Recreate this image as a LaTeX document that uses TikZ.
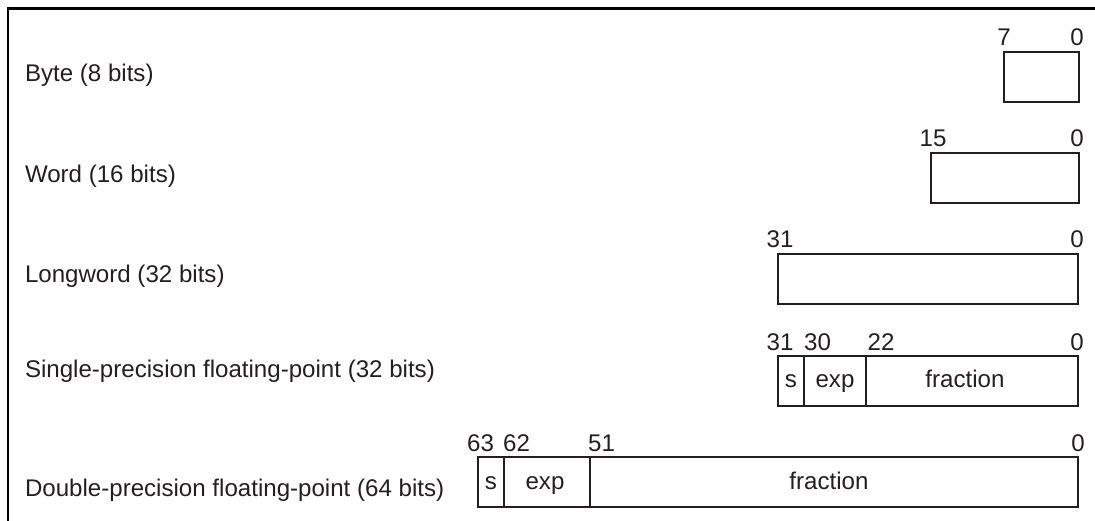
\documentclass[tikz,border=0pt]{standalone}
\usepackage{fontspec}
\setmainfont{Liberation Sans}
\definecolor{ink}{HTML}{231F20}
\begin{document}
\begin{tikzpicture}[x=1pt,y=-1pt,
  txt/.style={inner sep=0pt,outer sep=0pt,anchor=base,text=ink,font=\fontsize{24.1}{27}\selectfont},
  lbl/.style={txt,anchor=base west},
  field/.style={draw=ink,line width=1.4pt},
  frame/.style={draw=black,line width=2.6pt}]
\useasboundingbox (0,0) rectangle (1095,521);
% frame
\draw[frame] (8,521) -- (8,8.5) -- (1095,8.5);
% labels
\node[lbl] (lbyte) at (25,82) {Byte (8 bits)};
\node[lbl] (lword) at (25,183) {Word (16 bits)};
\node[lbl] (llong) at (25,283) {Longword (32 bits)};
\node[lbl] (lsingle) at (25,377) {Single-precision floating-point (32 bits)};
\node[lbl] (ldouble) at (25,496) {Double-precision floating-point (64 bits)};
% byte
\draw[field] (1004,52) rectangle (1079,102);
\node[txt] (b7) at (1004,46) {7};
\node[txt] (b0) at (1077,46) {0};
% word
\draw[field] (931,153) rectangle (1079,203);
\node[txt] (w15) at (933,147) {15};
\node[txt] (w0) at (1077,147) {0};
% longword
\draw[field] (778,254) rectangle (1078,304);
\node[txt] (l31) at (780,248) {31};
\node[txt] (l0) at (1077,248) {0};
% single
\draw[field] (778,356) rectangle (1078,406);
\draw[field] (804,356) -- (804,406);
\draw[field] (866,356) -- (866,406);
\node[txt] (s31) at (780,350) {31};
\node[txt] (s30) at (817.5,350) {30};
\node[txt] (s22) at (881,350) {22};
\node[txt] (s0) at (1077,350) {0};
\node[txt] (ss) at (791,387) {s};
\node[txt] (sexp) at (835,387) {exp};
\node[txt] (sfrac) at (965,387) {fraction};
% double
\draw[field] (478,457) rectangle (1078,507);
\draw[field] (504,457) -- (504,507);
\draw[field] (590,457) -- (590,507);
\node[txt] (d63) at (480.5,451) {63};
\node[txt] (d62) at (516.5,451) {62};
\node[txt] (d51) at (601.5,451) {51};
\node[txt] (d0) at (1078,451) {0};
\node[txt] (ds) at (491,489) {s};
\node[txt] (dexp) at (545,489) {exp};
\node[txt] (dfrac) at (829,489) {fraction};
\end{tikzpicture}
\end{document}
